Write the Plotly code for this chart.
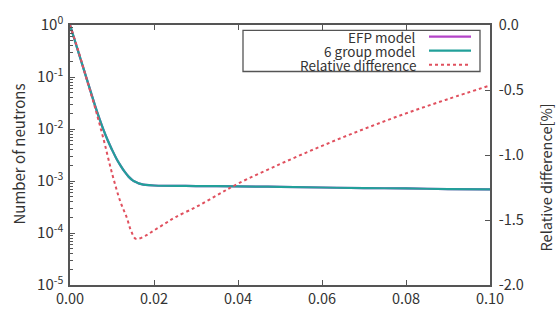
import plotly.graph_objects as go

# ---- data ----
t_n = [0.0, 0.001, 0.002, 0.003, 0.004, 0.005, 0.006, 0.007, 0.008, 0.009,
       0.010, 0.011, 0.012, 0.013, 0.014, 0.015, 0.016, 0.017, 0.018, 0.020,
       0.030, 0.040, 0.050, 0.060, 0.070, 0.080, 0.090, 0.100]
n_efp = [1.0, 0.55, 0.30, 0.166, 0.091, 0.050, 0.0275, 0.0158, 0.0095, 0.0060,
         0.0040, 0.00275, 0.0020, 0.00151, 0.00120, 0.00102, 0.00093, 0.00087, 0.00084, 0.00082,
         0.00080, 0.00079, 0.00077, 0.00075, 0.00073, 0.00072, 0.00070, 0.00069]
n_6grp = [1.0, 0.55, 0.30, 0.166, 0.091, 0.050, 0.0275, 0.0158, 0.0095, 0.0060,
          0.0040, 0.00275, 0.0020, 0.00151, 0.00120, 0.00102, 0.00093, 0.00087, 0.00084, 0.00082,
          0.00080, 0.00079, 0.00077, 0.00075, 0.00073, 0.00072, 0.00070, 0.00069]

t_rel = [0.0, 0.002, 0.004, 0.006, 0.008, 0.010, 0.012, 0.0135, 0.0145, 0.0157,
         0.018, 0.020, 0.0225, 0.025, 0.030, 0.035, 0.040, 0.050, 0.060, 0.070,
         0.080, 0.090, 0.100]
rel_diff = [0.0, -0.20, -0.42, -0.64, -0.88, -1.14, -1.36, -1.48, -1.58, -1.645,
            -1.62, -1.58, -1.53, -1.48, -1.40, -1.31, -1.22, -1.07, -0.93, -0.80,
            -0.68, -0.57, -0.465]

legend_names = ["EFP model", "6 group model", "Relative difference"]
y_tickvals = [1, 0.1, 0.01, 0.001, 0.0001, 0.00001]
y_ticktext = ["10<sup>0</sup>", "10<sup>-1</sup>", "10<sup>-2</sup>",
              "10<sup>-3</sup>", "10<sup>-4</sup>", "10<sup>-5</sup>"]
y2_tickvals = [0.0, -0.5, -1.0, -1.5, -2.0]
y2_ticktext = ["0.0", "-0.5", "-1.0", "-1.5", "-2.0"]
left_title = "Number of neutrons"
right_title = "Relative difference[%]"

# ---- styles ----
FONT = "Noto Sans CJK JP, Noto Sans, sans-serif"
C_EFP = "#b444c8"
C_6G = "#22a09a"
C_REL = "#e0505e"
AX = "#555555"
TXT = "#333333"

fig = go.Figure()
fig.add_trace(go.Scatter(x=t_n, y=n_efp, mode="lines", name=legend_names[0],
                         line=dict(color=C_EFP, width=2.2), line_shape="spline"))
fig.add_trace(go.Scatter(x=t_n, y=n_6grp, mode="lines", name=legend_names[1],
                         line=dict(color=C_6G, width=2.2), line_shape="spline"))
fig.add_trace(go.Scatter(x=t_rel, y=rel_diff, mode="lines", name=legend_names[2],
                         yaxis="y2", line=dict(color=C_REL, width=2, dash="dot"),
                         line_shape="spline"))

L, R, T, B = 70, 68, 17, 25
W, H = 558, 320
pw, ph = W - L - R, H - T - B

def px_x(x):
    return (x - L) / pw

def px_y(y):
    return (H - B - y) / ph

fig.update_layout(
    width=W, height=H,
    margin=dict(l=L, r=R, t=T, b=B),
    paper_bgcolor="white", plot_bgcolor="white",
    font=dict(family=FONT, size=14, color=TXT),
    showlegend=False,
    xaxis=dict(range=[0, 0.1], dtick=0.02, tick0=0, tickformat=".2f",
               showgrid=False, zeroline=False, showline=True, linecolor=AX,
               linewidth=1.5, mirror="ticks", ticks="inside", ticklen=5,
               tickcolor=AX, tickfont=dict(size=14.5), ticklabelstandoff=0),
    yaxis=dict(type="log", range=[-5, 0], tickvals=y_tickvals, ticktext=y_ticktext,
               showgrid=False, zeroline=False, showline=True, linecolor=AX,
               linewidth=1.5, ticks="inside", ticklen=5, tickcolor=AX,
               minor=dict(ticks="inside", ticklen=3, tickcolor=AX, showgrid=False,
                          dtick="D1"),
               tickfont=dict(size=15), ticklabelstandoff=2),
    yaxis2=dict(overlaying="y", side="right", range=[-2, 0],
                tickvals=y2_tickvals, ticktext=y2_ticktext,
                showgrid=False, zeroline=False, showline=True,
                linecolor=AX, linewidth=1.5, ticks="inside", ticklen=5, tickcolor=AX,
                tickfont=dict(size=14.5), ticklabelstandoff=4),
)

# axis titles as rotated annotations (placed like the reference)
fig.add_annotation(xref="paper", yref="paper", x=px_x(18.5), y=px_y(155),
                   text=left_title, textangle=-90, showarrow=False,
                   xanchor="center", yanchor="middle", font=dict(size=15, color=TXT))
fig.add_annotation(xref="paper", yref="paper", x=px_x(545), y=px_y(180),
                   text=right_title, textangle=-90, showarrow=False,
                   xanchor="center", yanchor="middle", font=dict(size=14.5, color=TXT))

# manual legend (gnuplot style: text right-aligned, sample to the right)
fig.add_shape(type="rect", xref="paper", yref="paper",
              x0=px_x(243), x1=px_x(480), y0=px_y(66.7), y1=px_y(22.7),
              line=dict(color=AX, width=1.3), fillcolor="white", layer="above")
rows_y = [29.5, 44.5, 59.5]
styles = [dict(color=C_EFP, width=2.2), dict(color=C_6G, width=2.2),
          dict(color=C_REL, width=2, dash="dot")]
for name, ry, st in zip(legend_names, rows_y, styles):
    fig.add_annotation(xref="paper", yref="paper", x=px_x(418), y=px_y(ry),
                       text=name, showarrow=False, xanchor="right", yanchor="middle",
                       font=dict(size=13.5, color=TXT))
    fig.add_shape(type="line", xref="paper", yref="paper",
                  x0=px_x(429), x1=px_x(471), y0=px_y(ry), y1=px_y(ry),
                  line=st, layer="above")

fig.write_html("out.html")
